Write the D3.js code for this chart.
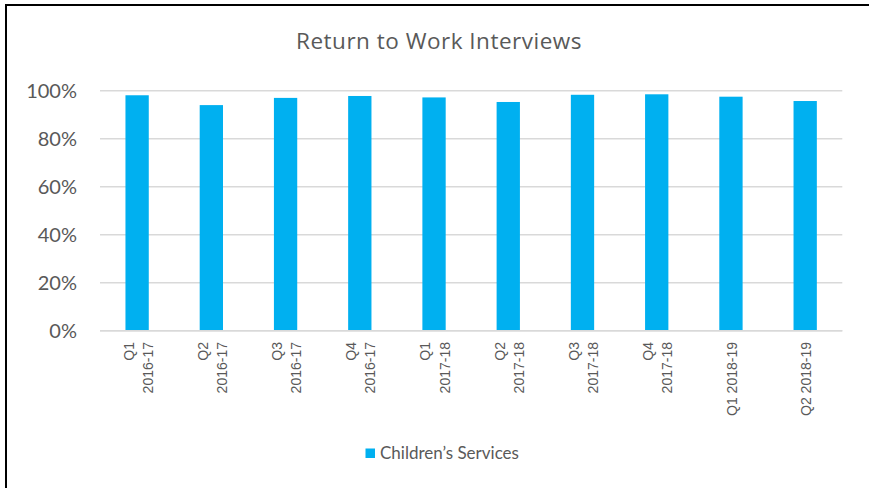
<!DOCTYPE html>
<html>
<head>
<meta charset="utf-8">
<script src="https://cdn.jsdelivr.net/npm/d3@7"></script>
<style>
  html, body { margin: 0; padding: 0; background: #fff; overflow: hidden; }
  svg { display: block; }
</style>
</head>
<body>
<svg id="chart" width="869" height="488"></svg>
<script>
// ---- data ----
const categories = ["Q1\n2016-17", "Q2\n2016-17", "Q3\n2016-17", "Q4\n2016-17",
                    "Q1\n2017-18", "Q2\n2017-18", "Q3\n2017-18", "Q4\n2017-18",
                    "Q1 2018-19", "Q2 2018-19"];
const childrensServices = [0.981, 0.940, 0.970, 0.978, 0.972, 0.953, 0.983, 0.985, 0.975, 0.957];
const yTicks = [0, 0.2, 0.4, 0.6, 0.8, 1.0];
const titleText = "Return to Work Interviews";
const seriesName = "Children\u2019s Services";

// ---- layout ----
const svg = d3.select("#chart");
const W = 869, H = 488;
const plot = { left: 100, right: 842.3, top: 90.7, bottom: 330.7 };
const textColor = "#595959";
const gridColor = "#d9d9d9";
const barColor = "#00b0f0";
const fontMain = "Lato, 'Open Sans', sans-serif";
const fontTitle = "'Open Sans', Lato, sans-serif";
const fontX = "'Liberation Sans', Arial, sans-serif";

svg.append("rect").attr("width", W).attr("height", H).attr("fill", "#fff");

// border
svg.append("path")
  .attr("d", "M6,492V5H875")
  .attr("fill", "none").attr("stroke", "#000").attr("stroke-width", 2);

const x = d3.scaleBand()
  .domain(categories)
  .range([plot.left, plot.right])
  .paddingInner(0.686)
  .paddingOuter(0.343);

const y = d3.scaleLinear().domain([0, 1]).range([plot.bottom, plot.top]);

// gridlines
svg.append("g").selectAll("line").data(yTicks).join("line")
  .attr("x1", plot.left).attr("x2", plot.right)
  .attr("y1", d => y(d)).attr("y2", d => y(d))
  .attr("stroke", gridColor).attr("stroke-width", 1.4);

// y axis labels
const yAxis = d3.axisLeft(y).tickValues(yTicks).tickFormat(d3.format(".0%")).tickSize(0).tickPadding(0);
const yG = svg.append("g").attr("transform", `translate(77,0)`).call(yAxis);
yG.select(".domain").remove();
yG.selectAll("text")
  .attr("fill", textColor)
  .attr("font-family", fontMain)
  .attr("font-size", 20)
  .attr("x", 0)
  .attr("dy", "0.36em");

// bars
svg.append("g").selectAll("rect").data(childrensServices).join("rect")
  .attr("x", (d, i) => x(categories[i]))
  .attr("width", x.bandwidth())
  .attr("y", d => y(d))
  .attr("height", d => y(0) - y(d))
  .attr("fill", barColor);

// redraw baseline on top
svg.append("line")
  .attr("x1", plot.left).attr("x2", plot.right)
  .attr("y1", y(0)).attr("y2", y(0))
  .attr("stroke", gridColor).attr("stroke-width", 1.4);

// x labels (rotated)
const lineGap = 19.2;
const xg = svg.append("g").selectAll("g").data(categories).join("g")
  .attr("transform", d => `translate(${x(d) + x.bandwidth() / 2},342) rotate(-90)`);
xg.each(function(d) {
  const lines = d.split("\n");
  const t = d3.select(this).append("text")
    .attr("text-anchor", "end")
    .attr("fill", textColor)
    .attr("font-family", fontX)
    .attr("font-size", 14);
  lines.forEach((ln, i) => {
    t.append("tspan")
      .attr("x", 0)
      .attr("y", 6 + (i - (lines.length - 1) / 2) * lineGap)
      .text(ln);
  });
});

// title
svg.append("text")
  .attr("x", 439).attr("y", 48.5)
  .attr("text-anchor", "middle")
  .attr("fill", textColor)
  .attr("font-family", fontTitle)
  .attr("font-size", 22.5)
  .attr("letter-spacing", 0.5)
  .text(titleText);

// legend
svg.append("rect")
  .attr("x", 365.5).attr("y", 448.5).attr("width", 9.5).attr("height", 9.5)
  .attr("fill", barColor);
svg.append("text")
  .attr("x", 380).attr("y", 459)
  .attr("fill", textColor)
  .attr("font-family", fontMain)
  .attr("font-size", 17)
  .text(seriesName);
</script>
</body>
</html>
